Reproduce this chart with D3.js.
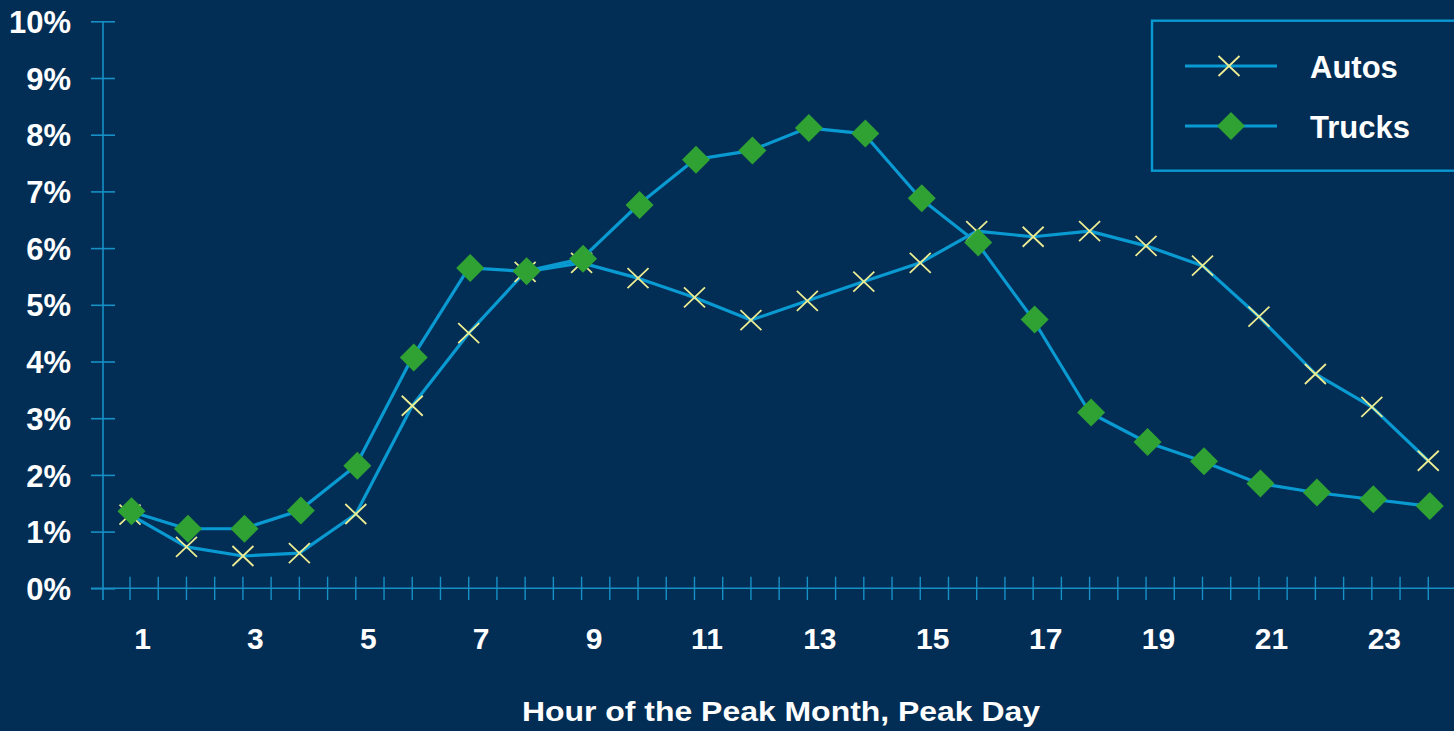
<!DOCTYPE html>
<html>
<head>
<meta charset="utf-8">
<script src="https://cdn.jsdelivr.net/npm/d3@7"></script>
<style>
  html, body { margin: 0; padding: 0; background: #022d55; }
  svg { display: block; }
  text { font-family: 'Liberation Sans', Arial, sans-serif; font-weight: bold; fill: #ffffff; }
</style>
</head>
<body>
<div id="chart"></div>
<script>
const HOURS = d3.range(1, 25);
const HOUR_LABELS = [1, 3, 5, 7, 9, 11, 13, 15, 17, 19, 21, 23];
const Y_TICKS = [0, 1, 2, 3, 4, 5, 6, 7, 8, 9, 10];
const AUTOS = [1.30, 0.73, 0.57, 0.62, 1.31, 3.22, 4.50, 5.58, 5.74, 5.47, 5.13, 4.73,
  5.07, 5.41, 5.74, 6.30, 6.20, 6.30, 6.04, 5.69, 4.79, 3.78, 3.20, 2.25];
const TRUCKS = [1.36, 1.05, 1.05, 1.37, 2.16, 4.07, 5.65, 5.59, 5.81, 6.76, 7.56, 7.72,
  8.12, 8.02, 6.88, 6.10, 4.74, 3.10, 2.58, 2.24, 1.85, 1.69, 1.57, 1.45];
const SERIES_NAMES = ['Autos', 'Trucks'];

const width = 1454;
const height = 731;
const lineColor = '#0a9ad2';
const axisColor = '#1790c6';
const crossColor = '#ecec92';
const diamondColor = '#2fa233';

const svg = d3.select('#chart')
  .append('svg')
  .attr('width', width)
  .attr('height', height);

svg.append('rect')
  .attr('width', width)
  .attr('height', height)
  .attr('fill', '#022d55');

const x = d3.scaleBand()
  .domain(HOURS)
  .range([101.8, 1456.5]);

const y = d3.scaleLinear()
  .domain([0, 10])
  .range([588.3, 21.3]);

const cx = (h) => x(h) + x.bandwidth() / 2;

// y axis
const yAxis = svg.append('g')
  .attr('transform', 'translate(103,0)')
  .call(d3.axisLeft(y).tickValues(Y_TICKS).tickSize(12).tickPadding(20).tickFormat((d) => `${d}%`));
yAxis.select('.domain').remove();
yAxis.selectAll('.tick line')
  .attr('x1', 12)
  .attr('stroke', axisColor)
  .attr('stroke-width', 1.6);
yAxis.selectAll('.tick text')
  .attr('font-size', 31)
  .attr('font-family', null)
  .attr('fill', '#fff')
  .attr('dy', '0.36em');
yAxis.append('line')
  .attr('y1', y(10))
  .attr('y2', 600)
  .attr('stroke', axisColor)
  .attr('stroke-width', 1.6);

// x axis line and half-band ticks
svg.append('line')
  .attr('x1', 91)
  .attr('x2', width)
  .attr('y1', y(0))
  .attr('y2', y(0))
  .attr('stroke', axisColor)
  .attr('stroke-width', 1.6);

const halfTicks = [];
HOURS.forEach((h) => {
  halfTicks.push(cx(h));
  if (h > 1) halfTicks.push(x(h));
});
svg.append('g')
  .selectAll('line')
  .data(halfTicks)
  .join('line')
  .attr('x1', (d) => d)
  .attr('x2', (d) => d)
  .attr('y1', y(0) - 11.6)
  .attr('y2', y(0) + 11.7)
  .attr('stroke', axisColor)
  .attr('stroke-width', 1.4);

svg.append('g')
  .selectAll('text')
  .data(HOUR_LABELS)
  .join('text')
  .attr('x', (d) => cx(d) + 12.5)
  .attr('y', 649)
  .attr('text-anchor', 'middle')
  .attr('font-size', 30)
  .text((d) => d);

svg.append('text')
  .attr('x', 522)
  .attr('y', 720.7)
  .attr('font-size', 28)
  .attr('textLength', 518)
  .attr('lengthAdjust', 'spacingAndGlyphs')
  .text('Hour of the Peak Month, Peak Day');

// series
const line = d3.line()
  .x((d, i) => cx(HOURS[i]))
  .y((d) => y(d));

[AUTOS, TRUCKS].forEach((vals) => {
  svg.append('path')
    .datum(vals)
    .attr('d', line)
    .attr('fill', 'none')
    .attr('stroke', lineColor)
    .attr('stroke-width', 3.2)
    .attr('stroke-linejoin', 'round');
});

const crossPath = 'M-10.5,-10L10.5,10M-10.5,10L10.5,-10';
const diamondPath = d3.symbol().type(d3.symbolSquare).size(392)();

svg.append('g')
  .selectAll('path')
  .data(AUTOS)
  .join('path')
  .attr('d', crossPath)
  .attr('transform', (d, i) => `translate(${cx(HOURS[i])},${y(d)})`)
  .attr('stroke', crossColor)
  .attr('stroke-width', 1.8)
  .attr('fill', 'none');

svg.append('g')
  .selectAll('path')
  .data(TRUCKS)
  .join('path')
  .attr('d', diamondPath)
  .attr('transform', (d, i) => `translate(${cx(HOURS[i]) + 1.5},${y(d)}) rotate(45)`)
  .attr('fill', diamondColor);

// legend
const legend = svg.append('g');
legend.append('rect')
  .attr('x', 1152)
  .attr('y', 20.7)
  .attr('width', 310)
  .attr('height', 150)
  .attr('fill', 'none')
  .attr('stroke', lineColor)
  .attr('stroke-width', 2.4);

const legendY = [66, 126];
SERIES_NAMES.forEach((name, i) => {
  legend.append('line')
    .attr('x1', 1185)
    .attr('x2', 1277)
    .attr('y1', legendY[i])
    .attr('y2', legendY[i])
    .attr('stroke', lineColor)
    .attr('stroke-width', 3.2);
  if (i === 0) {
    legend.append('path')
      .attr('d', crossPath)
      .attr('transform', `translate(1229,${legendY[i]})`)
      .attr('stroke', crossColor)
      .attr('stroke-width', 1.8)
      .attr('fill', 'none');
  } else {
    legend.append('path')
      .attr('d', diamondPath)
      .attr('transform', `translate(1231,${legendY[i]}) rotate(45)`)
      .attr('fill', diamondColor);
  }
  legend.append('text')
    .attr('x', 1310)
    .attr('y', legendY[i] + 11.5)
    .attr('font-size', 31)
    .text(name);
});
</script>
</body>
</html>
